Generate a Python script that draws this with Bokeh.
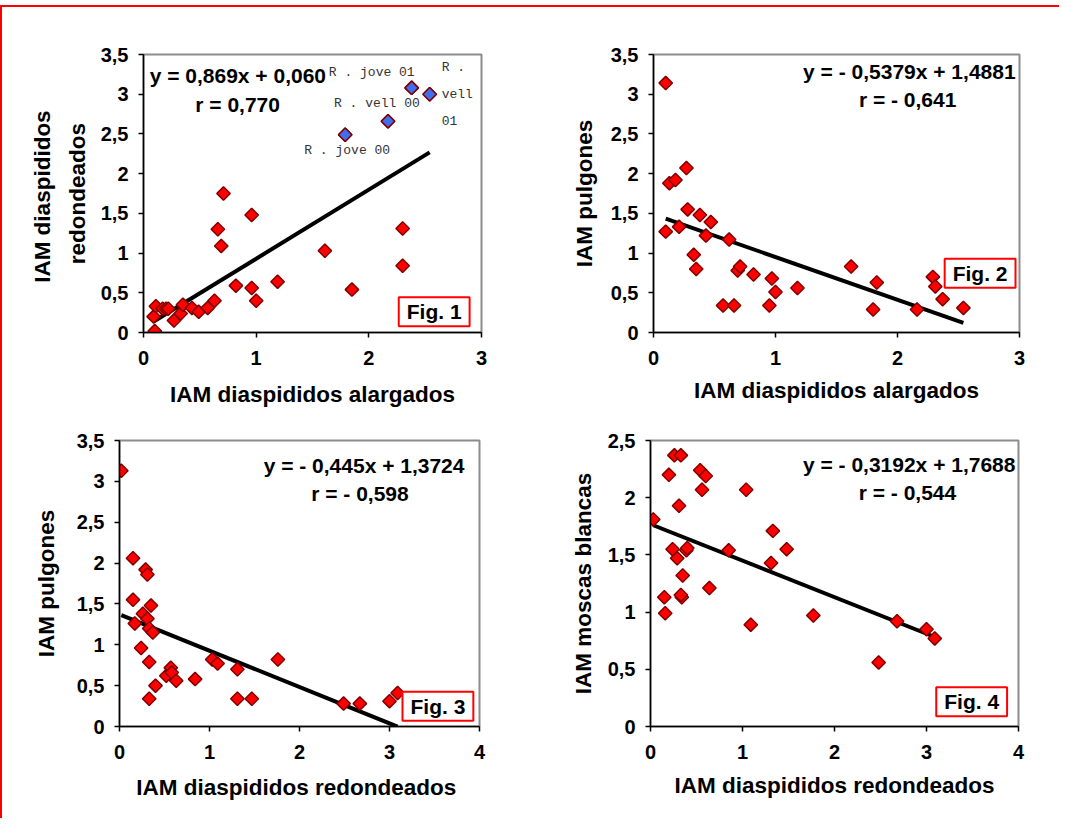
from bokeh.plotting import figure
from bokeh.models import Div, Label, FixedTicker, Range1d
from bokeh.layouts import column, row
from bokeh.embed import file_html
from bokeh.resources import INLINE

# ---------------- data ----------------
# Fig. 1 : IAM diaspididos alargados (x) vs IAM diaspididos redondeados (y)
fig1_x = [0.10, 0.09, 0.11, 0.17, 0.20, 0.22, 0.27, 0.33, 0.35, 0.43, 0.49, 0.57, 0.63,
          0.66, 0.69, 0.71, 0.82, 0.96, 0.96, 1.00, 1.19, 1.61, 1.85, 2.30, 2.30]
fig1_y = [0.02, 0.20, 0.33, 0.30, 0.30, 0.30, 0.15, 0.24, 0.35, 0.31, 0.26, 0.31, 0.40,
          1.30, 1.09, 1.75, 0.59, 1.48, 0.56, 0.40, 0.64, 1.03, 0.54, 1.31, 0.84]
fig1_hl_x = [1.79, 2.17, 2.38, 2.54]
fig1_hl_y = [2.49, 2.66, 3.08, 3.00]
fig1_hl_labels = ["R . jove 00", "R . vell 00", "R . jove 01", "R .\nvell\n01"]
fig1_fit = (0.869, 0.060)
fig1_eq = ["y = 0,869x + 0,060", "r = 0,770"]

# Fig. 2 : IAM diaspididos alargados (x) vs IAM pulgones (y)
fig2_x = [0.10, 0.10, 0.13, 0.18, 0.27, 0.21, 0.28, 0.38, 0.43, 0.47, 0.33, 0.35, 0.57,
          0.62, 0.66, 0.69, 0.71, 0.82, 0.97, 0.95, 1.00, 1.18, 1.62, 1.80, 1.83, 2.16,
          2.29, 2.31, 2.37, 2.54]
fig2_y = [3.14, 1.27, 1.88, 1.92, 2.07, 1.33, 1.55, 1.48, 1.22, 1.39, 0.98, 0.80, 0.34,
          1.17, 0.34, 0.78, 0.83, 0.73, 0.68, 0.34, 0.51, 0.56, 0.83, 0.29, 0.63, 0.29,
          0.70, 0.58, 0.42, 0.31]
fig2_fit = (-0.5379, 1.4881)
fig2_eq = ["y = - 0,5379x + 1,4881", "r = - 0,641"]

# Fig. 3 : IAM diaspididos redondeados (x) vs IAM pulgones (y)
fig3_x = [0.02, 0.15, 0.29, 0.31, 0.15, 0.26, 0.31, 0.35, 0.17, 0.33, 0.37, 0.24, 0.33,
          0.40, 0.33, 0.52, 0.57, 0.58, 0.63, 0.84, 1.03, 1.09, 1.31, 1.31, 1.47, 1.76,
          2.49, 2.67, 3.00, 3.09]
fig3_y = [3.13, 2.06, 1.92, 1.86, 1.55, 1.38, 1.32, 1.48, 1.26, 1.20, 1.15, 0.96, 0.79,
          0.50, 0.34, 0.62, 0.72, 0.66, 0.56, 0.58, 0.82, 0.77, 0.70, 0.34, 0.34, 0.82,
          0.28, 0.28, 0.31, 0.41]
fig3_fit = (-0.445, 1.3724)
fig3_eq = ["y = - 0,445x + 1,3724", "r =  - 0,598"]

# Fig. 4 : IAM diaspididos redondeados (x) vs IAM moscas blancas (y)
fig4_x = [0.03, 0.20, 0.26, 0.33, 0.31, 0.24, 0.29, 0.39, 0.40, 0.35, 0.34, 0.33, 0.15,
          0.16, 0.54, 0.60, 0.56, 0.64, 0.85, 1.04, 1.09, 1.33, 1.31, 1.48, 1.77, 2.48,
          2.68, 3.00, 3.09]
fig4_y = [1.81, 2.20, 2.37, 2.37, 1.93, 1.55, 1.47, 1.54, 1.56, 1.32, 1.13, 1.15, 1.13,
          0.99, 2.24, 2.19, 2.07, 1.21, 1.54, 2.07, 0.89, 1.71, 1.43, 1.55, 0.97, 0.56,
          0.92, 0.85, 0.77]
fig4_fit = (-0.3192, 1.7688)
fig4_eq = ["y = - 0,3192x + 1,7688", "r = - 0,544"]

# ticks
x_ticks_3 = [0, 1, 2, 3]
x_labels_3 = ["0", "1", "2", "3"]
x_ticks_4 = [0, 1, 2, 3, 4]
x_labels_4 = ["0", "1", "2", "3", "4"]
y_ticks_35 = [0, 0.5, 1, 1.5, 2, 2.5, 3, 3.5]
y_labels_35 = ["0", "0,5", "1", "1,5", "2", "2,5", "3", "3,5"]
y_ticks_25 = [0, 0.5, 1, 1.5, 2, 2.5]
y_labels_25 = ["0", "0,5", "1", "1,5", "2", "2,5"]

FONT = "Liberation Sans"
RED_FILL = "#FF0000"
RED_LINE = "#800000"


def make_panel(xs, ys, fit, xmax, ymax, xticks, xlabels, yticks, ylabels,
               xtitle, ytitle, geom, ystandoff, xstandoff):
    w, h, bl, br, bt, bb = geom
    p = figure(width=w, height=h, x_range=Range1d(0, xmax), y_range=Range1d(0, ymax),
               output_backend="svg", toolbar_location=None, title=None,
               min_border_left=bl, min_border_right=br, min_border_top=bt,
               min_border_bottom=bb)
    p.xgrid.visible = False
    p.ygrid.visible = False
    p.background_fill_color = "white"
    p.border_fill_color = "white"
    p.outline_line_color = "#8C8C8C"
    p.outline_line_width = 2
    for ax, ticks, labels, title, standoff in (
            (p.xaxis[0], xticks, xlabels, xtitle, xstandoff),
            (p.yaxis[0], yticks, ylabels, ytitle, ystandoff)):
        ax.ticker = FixedTicker(ticks=ticks)
        ax.major_label_overrides = {t: l for t, l in zip(ticks, labels)}
        ax.minor_tick_line_color = None
        ax.major_tick_in = 0
        ax.major_tick_out = 5
        ax.major_tick_line_width = 1.5
        ax.axis_line_width = 1.5
        ax.axis_line_color = "black"
        ax.major_tick_line_color = "black"
        ax.major_label_text_font = FONT
        ax.major_label_text_font_style = "bold"
        ax.major_label_text_font_size = "20px"
        ax.major_label_text_color = "black"
        ax.major_label_standoff = 10
        ax.axis_label = title
        ax.axis_label_text_font = FONT
        ax.axis_label_text_font_style = "bold"
        ax.axis_label_text_font_size = "22.5px"
        ax.axis_label_text_color = "black"
        ax.axis_label_text_line_height = 1.4
        ax.axis_label_standoff = standoff
    p.xaxis.major_label_standoff = 13
    # regression line over the data x-range
    x0, x1 = min(xs), max(xs)
    m, b = fit
    p.line([x0, x1], [m * x0 + b, m * x1 + b], line_color="black", line_width=4)
    p.scatter(xs, ys, marker="square", angle=0.785398, size=9.5,
              fill_color=RED_FILL, line_color=RED_LINE, line_width=1.5)
    return p


def eq_labels(p, eq, pos):
    (x1, y1, a1), (x2, y2, a2) = pos
    p.add_layout(Label(x=x1, y=y1, text=eq[0], text_font=FONT, text_font_style="bold",
                       text_font_size="21px", text_color="black", text_align=a1,
                       text_baseline="middle"))
    p.add_layout(Label(x=x2, y=y2, text=eq[1], text_font=FONT, text_font_style="bold",
                       text_font_size="21px", text_color="black", text_align=a2,
                       text_baseline="middle"))


def fig_box(p, txt, x, y):
    p.add_layout(Label(x=x, y=y, text=txt, text_font=FONT, text_font_style="bold",
                       text_font_size="21px", text_color="black", text_align="center",
                       text_baseline="middle", background_fill_color="white",
                       border_line_color="#FF0000", border_line_width=2, padding=(8, 3)))


# Panel 1
p1 = make_panel(fig1_x + fig1_hl_x, fig1_y + fig1_hl_y, fig1_fit, 3, 3.5, x_ticks_3, x_labels_3,
                y_ticks_35, y_labels_35, "IAM diaspididos alargados",
                "IAM  diaspididos\nredondeados", (530, 410, 141, 51, 47, 78), 8, 14)
p1.scatter(fig1_hl_x, fig1_hl_y, marker="square", angle=0.785398, size=9.5,
           fill_color="#3F6FEF", line_color=RED_LINE, line_width=1.5)
hl_style = [("center", "middle", 2, -16), ("left", "middle", -54, 18),
            ("right", "middle", 3, 15), ("left", "middle", 12, 0)]
for hx, hy, txt, (al, bl_, xo, yo) in zip(fig1_hl_x, fig1_hl_y, fig1_hl_labels, hl_style):
    p1.add_layout(Label(x=hx, y=hy, text=txt, text_font="Liberation Mono",
                        text_font_size="13px", text_color="#333333", text_align=al,
                        text_baseline=bl_, x_offset=xo, y_offset=yo, text_line_height=1.8))
eq_labels(p1, fig1_eq, ((0.055, 3.24, "left"), (0.46, 2.87, "left")))
fig_box(p1, "Fig. 1", 2.58, 0.26)

# Panel 2
p2 = make_panel(fig2_x, fig2_y, fig2_fit, 3, 3.5, x_ticks_3, x_labels_3, y_ticks_35, y_labels_35,
                "IAM diaspididos alargados", "IAM pulgones",
                (519, 410, 121, 32, 37, 85), 11, 10)
eq_labels(p2, fig2_eq, ((2.968, 3.28, "right"), (2.083, 2.93, "center")))
fig_box(p2, "Fig. 2", 2.677, 0.747)

# Panel 3
p3 = make_panel(fig3_x, fig3_y, fig3_fit, 4, 3.5, x_ticks_4, x_labels_4, y_ticks_35, y_labels_35,
                "IAM  diaspididos redondeados", "IAM pulgones",
                (530, 401, 117, 53, 21, 92), 15, 13)
eq_labels(p3, fig3_eq, ((3.833, 3.196, "right"), (2.704, 2.852, "center")))
fig_box(p3, "Fig. 3", 3.538, 0.247)

# Panel 4
p4 = make_panel(fig4_x, fig4_y, fig4_fit, 4, 2.5, x_ticks_4, x_labels_4, y_ticks_25, y_labels_25,
                "IAM diaspididos redondeados", "IAM moscas blancas",
                (519, 401, 118, 33, 23, 85), 9, 11)
eq_labels(p4, fig4_eq, ((3.967, 2.293, "right"), (2.793, 2.042, "center")))
fig_box(p4, "Fig. 4", 3.491, 0.216)

# frame lines (red) and layout
top_line = Div(text="", width=1059, height=2, margin=(5, 0, 0, 0),
               styles={"background-color": "#FF0000"})
left_line = Div(text="", width=2, height=811, margin=(0, 0, 0, 0),
                styles={"background-color": "#FF0000"})
grid = column(row(p1, p2), row(p3, p4))
layout = column(top_line, row(left_line, grid))

open("out.html", "w").write(file_html(layout, INLINE))
